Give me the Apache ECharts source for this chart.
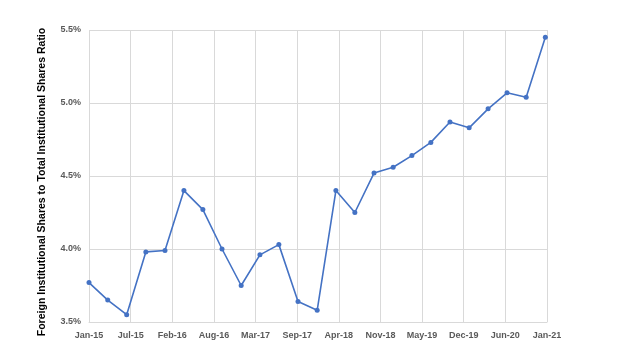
<!DOCTYPE html>
<html>
<head>
<meta charset="utf-8">
<script src="https://cdn.jsdelivr.net/npm/echarts@6/dist/echarts.min.js"></script>
<style>
html,body{margin:0;padding:0;background:#fff;}
#chart{width:624px;height:350px;}
</style>
</head>
<body>
<div id="chart"></div>
<script>
// Quarterly observation dates
var quarters = [
  '2015-01','2015-04','2015-07','2015-10',
  '2016-01','2016-04','2016-07','2016-10',
  '2017-01','2017-04','2017-07','2017-10',
  '2018-01','2018-04','2018-07','2018-10',
  '2019-01','2019-04','2019-07','2019-10',
  '2020-01','2020-04','2020-07','2020-10',
  '2021-01'
];
// Foreign institutional shares / total institutional shares (%)
var ratioValues = [
  3.77, 3.65, 3.55, 3.98,
  3.99, 4.40, 4.27, 4.00,
  3.75, 3.96, 4.03, 3.64,
  3.58, 4.40, 4.25, 4.52,
  4.56, 4.64, 4.73, 4.87,
  4.83, 4.96, 5.07, 5.04,
  5.45
];
var yTickLabels = ['3.5%','4.0%','4.5%','5.0%','5.5%'];
var axisTitle = 'Foreign Institutional Shares to Total Institutional Shares Ratio';
var monthNames = ['Jan','Feb','Mar','Apr','May','Jun','Jul','Aug','Sep','Oct','Nov','Dec'];

var DAY = 86400000;
var origin = Date.UTC(2015, 0, 1);
function dayOffset(s) {
  var p = s.split('-');
  return Math.round((Date.UTC(+p[0], +p[1] - 1, 1) - origin) / DAY);
}
function fmtDay(v) {
  var d = new Date(origin + v * DAY);
  return monthNames[d.getUTCMonth()] + '-' + String(d.getUTCFullYear()).slice(2);
}
var seriesData = quarters.map(function (q, i) { return [dayOffset(q), ratioValues[i]]; });

var chart = echarts.init(document.getElementById('chart'), null, {renderer: 'canvas'});
var labelFont = 'Liberation Sans, Arial, sans-serif';
chart.setOption({
  animation: false,
  backgroundColor: '#ffffff',
  grid: {left: 89, right: 77, top: 30, bottom: 28, containLabel: false},
  xAxis: {
    type: 'value',
    min: 0,
    max: 2200,
    interval: 200,
    axisLine: {show: true, lineStyle: {color: '#d9d9d9', width: 1}},
    axisTick: {show: false},
    splitLine: {show: true, lineStyle: {color: '#d9d9d9', width: 1}},
    axisLabel: {
      margin: 9,
      color: '#595959',
      fontFamily: labelFont,
      fontWeight: 'bold',
      fontSize: 9,
      formatter: function (v) { return fmtDay(v); }
    }
  },
  yAxis: {
    type: 'value',
    min: 3.5,
    max: 5.5,
    interval: 0.5,
    axisLine: {show: false},
    axisTick: {show: false},
    splitLine: {show: true, lineStyle: {color: '#d9d9d9', width: 1}},
    axisLabel: {
      margin: 8,
      color: '#595959',
      fontFamily: labelFont,
      fontWeight: 'bold',
      fontSize: 9,
      formatter: function (v) {
        var idx = Math.round((v - 3.5) / 0.5);
        return yTickLabels[idx] !== undefined ? yTickLabels[idx] : v.toFixed(1) + '%';
      }
    }
  },
  graphic: [{
    type: 'text',
    x: 42,
    y: 182,
    rotation: Math.PI / 2,
    style: {
      text: axisTitle,
      fill: '#000000',
      font: 'bold 10.5px Liberation Sans, Arial, sans-serif',
      align: 'center',
      verticalAlign: 'middle'
    }
  }],
  series: [{
    type: 'line',
    data: seriesData,
    symbol: 'circle',
    symbolSize: 5,
    lineStyle: {color: '#4472C4', width: 1.6},
    itemStyle: {color: '#4472C4'}
  }]
});
</script>
</body>
</html>
